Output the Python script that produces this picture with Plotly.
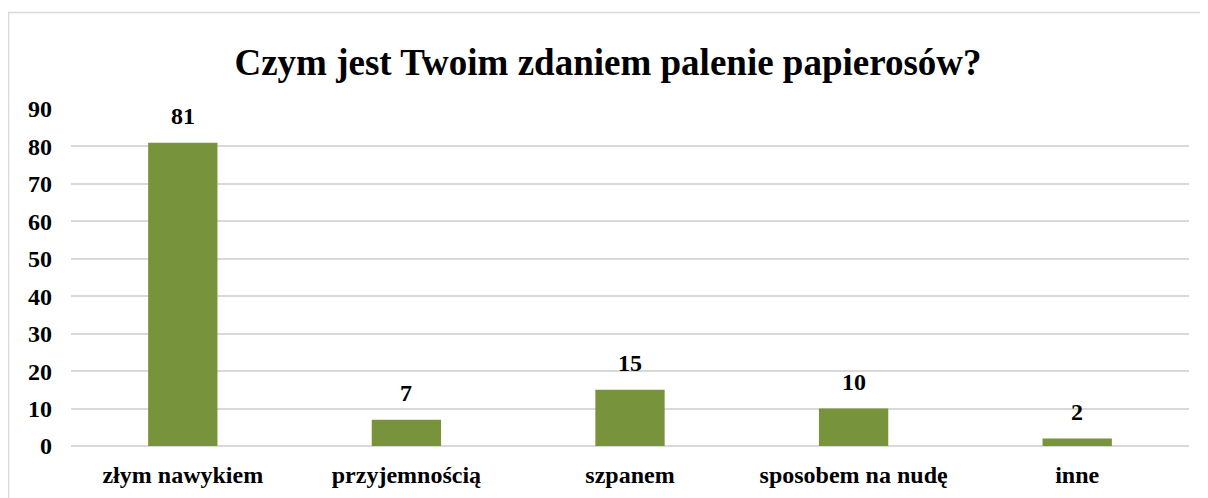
import plotly.graph_objects as go

categories = ["złym nawykiem", "przyjemnością", "szpanem", "sposobem na nudę", "inne"]
values = [81, 7, 15, 10, 2]
y_ticks = [0, 10, 20, 30, 40, 50, 60, 70, 80, 90]
title_text = "Czym jest Twoim zdaniem palenie papierosów?"

OFF = 8  # page body margin
W, H = 1208 - OFF, 498 - OFF
L, R, T, B = 71 - OFF, 19, 109 - OFF, 52
pw, ph = W - L - R, H - T - B

FONT = "Liberation Serif"

fig = go.Figure(go.Bar(
    x=categories, y=values,
    marker=dict(color="#77933C", line=dict(width=0)),
    width=0.31, hoverinfo="x+y",
))

for c, v in zip(categories, values):
    fig.add_annotation(x=c, y=v, text=str(v), showarrow=False,
                       yanchor="bottom", yshift=12,
                       font=dict(family=FONT, size=24, color="#000000", weight="bold"))

def px_x(p):
    return (p - OFF - L) / pw

def px_y(p):
    return (H + OFF - B - p) / ph

fig.update_layout(
    width=W, height=H,
    margin=dict(l=L, r=R, t=T, b=B, autoexpand=False),
    paper_bgcolor="white", plot_bgcolor="white",
    title=dict(text=title_text, x=0.5, xanchor="center",
               y=1 - (62 - OFF) / H, yanchor="middle",
               font=dict(family=FONT, size=37, color="#000000", weight="bold")),
    font=dict(family=FONT, color="#000000"),
    showlegend=False,
    xaxis=dict(showgrid=False, showline=False, ticks="", automargin=False,
               tickfont=dict(family=FONT, size=24, color="#000000", weight="bold"),
               ticklabelstandoff=12),
    yaxis=dict(range=[0, 90], tickvals=y_ticks, showgrid=True, automargin=False,
               gridcolor="#d9d9d9", gridwidth=1.5, zeroline=True,
               zerolinecolor="#d9d9d9", zerolinewidth=1.5, showline=False,
               tickfont=dict(family=FONT, size=24, color="#000000", weight="bold"),
               ticklabelstandoff=18),
    shapes=[dict(type="rect", xref="paper", yref="paper",
                 x0=px_x(8.5), x1=px_x(1230), y0=px_y(520), y1=px_y(12.5),
                 line=dict(color="#d9d9d9", width=1.5), layer="below")],
)

fig.write_html("out.html")
